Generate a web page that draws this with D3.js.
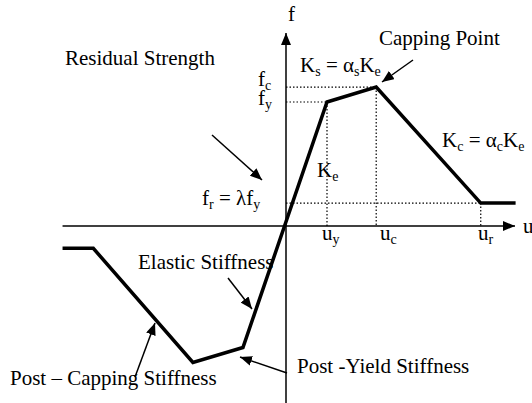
<!DOCTYPE html>
<html>
<head>
<script src="https://d3js.org/d3.v7.min.js"></script>
<style>
    body { margin: 0; background: #fff; }
    .curve { fill: none; stroke: #000; stroke-width: 3.5px; stroke-linejoin: miter; }
    .axis { stroke: #000; stroke-width: 1.5px; }
    .guide { stroke: #000; stroke-width: 1.2px; stroke-dasharray: 1.5,2; }
    .pointer { stroke: #000; stroke-width: 1.5px; }
</style>
</head>
<body>
<script>
    // backbone curve (u in units of u_y, f in units of f_y)
    const uVals = [-5.45, -4.7, -2.27, -1.05, 1, 2.2, 4.75, 5.6];
    const fVals = [-0.18, -0.18, -1.10, -0.98, 1, 1.12, 0.185, 0.185];

    // characteristic points
    const uy = 1, uc = 2.2, ur = 4.75;
    const fy = 1, fc = 1.12, fr = 0.185;

    const width = 532, height = 403;

    const x = d3.scaleLinear().domain([0, 1]).range([286, 327]);
    const y = d3.scaleLinear().domain([0, 1]).range([226, 102]);

    const svg = d3.select("body").append("svg")
        .attr("width", width)
        .attr("height", height);

    const defs = svg.append("defs");
    defs.append("marker").attr("id", "head")
        .attr("viewBox", "0 0 12 10").attr("refX", 12).attr("refY", 5)
        .attr("markerWidth", 12).attr("markerHeight", 10)
        .attr("markerUnits", "userSpaceOnUse").attr("orient", "auto")
        .append("path").attr("d", "M0,0L12,5L0,10Z");

    // axes
    svg.append("line").attr("class", "axis")
        .attr("x1", x(0)).attr("y1", height).attr("x2", x(0)).attr("y2", 33)
        .attr("marker-end", "url(#head)");
    svg.append("line").attr("class", "axis")
        .attr("x1", x(uVals[0])).attr("y1", y(0)).attr("x2", 515).attr("y2", y(0))
        .attr("marker-end", "url(#head)");

    // dotted guides
    const guides = [
        [0, fc, uc, fc], [0, fy, uy, fy], [0, fr, ur, fr],
        [uy, fy, uy, 0], [uc, fc, uc, 0], [ur, fr, ur, 0]
    ];
    svg.selectAll("line.guide").data(guides).join("line")
        .attr("class", "guide")
        .attr("x1", d => x(d[0])).attr("y1", d => y(d[1]))
        .attr("x2", d => x(d[2])).attr("y2", d => y(d[3]));

    // curve
    const pts = uVals.map((u, i) => [u, fVals[i]]);
    svg.append("path").attr("class", "curve")
        .attr("d", d3.line().x(d => x(d[0])).y(d => y(d[1]))(pts));

    // text with subscripts: parts = [[text, isSub], ...]
    function label(px, py, parts) {
        const t = svg.append("text")
            .attr("x", px).attr("y", py)
            .style("font-family", "Liberation Serif")
            .style("font-size", "21px");
        let low = false;
        parts.forEach(p => {
            const s = t.append("tspan").text(p[0]);
            if (p[1]) {
                s.style("font-size", "14px");
                if (!low) s.attr("dy", 4);
                low = true;
            } else {
                if (low) s.attr("dy", -4);
                low = false;
            }
        });
        return t;
    }

    label(288, 21, [["f"]]);
    label(523, 233, [["u"]]);
    label(258, 86, [["f"], ["c", 1]]);
    label(258, 105, [["f"], ["y", 1]]);
    label(202, 205, [["f"], ["r", 1], [" = \u03bbf"], ["y", 1]]);
    label(322, 240, [["u"], ["y", 1]]);
    label(380, 240, [["u"], ["c", 1]]);
    label(478, 240, [["u"], ["r", 1]]);
    label(317, 177, [["K"], ["e", 1]]);
    label(300, 72, [["K"], ["s", 1], [" = \u03b1"], ["s", 1], ["K"], ["e", 1]]);
    label(442, 147, [["K"], ["c", 1], [" = \u03b1"], ["c", 1], ["K"], ["e", 1]]);
    label(379, 45, [["Capping Point"]]);
    label(65, 65, [["Residual Strength"]]);
    label(138, 269, [["Elastic Stiffness"]]);
    label(10, 385, [["Post \u2013 Capping Stiffness"]]);
    label(297, 373, [["Post -Yield Stiffness"]]);

    // pointer arrows
    const pointers = [
        [413, 60, 382, 82],
        [212, 135, 262, 180],
        [228, 278, 252, 309],
        [135, 377, 155, 323],
        [287, 373, 240, 357]
    ];
    svg.selectAll("line.pointer").data(pointers).join("line")
        .attr("class", "pointer")
        .attr("x1", d => d[0]).attr("y1", d => d[1])
        .attr("x2", d => d[2]).attr("y2", d => d[3])
        .attr("marker-end", "url(#head)");
</script>
</body>
</html>
